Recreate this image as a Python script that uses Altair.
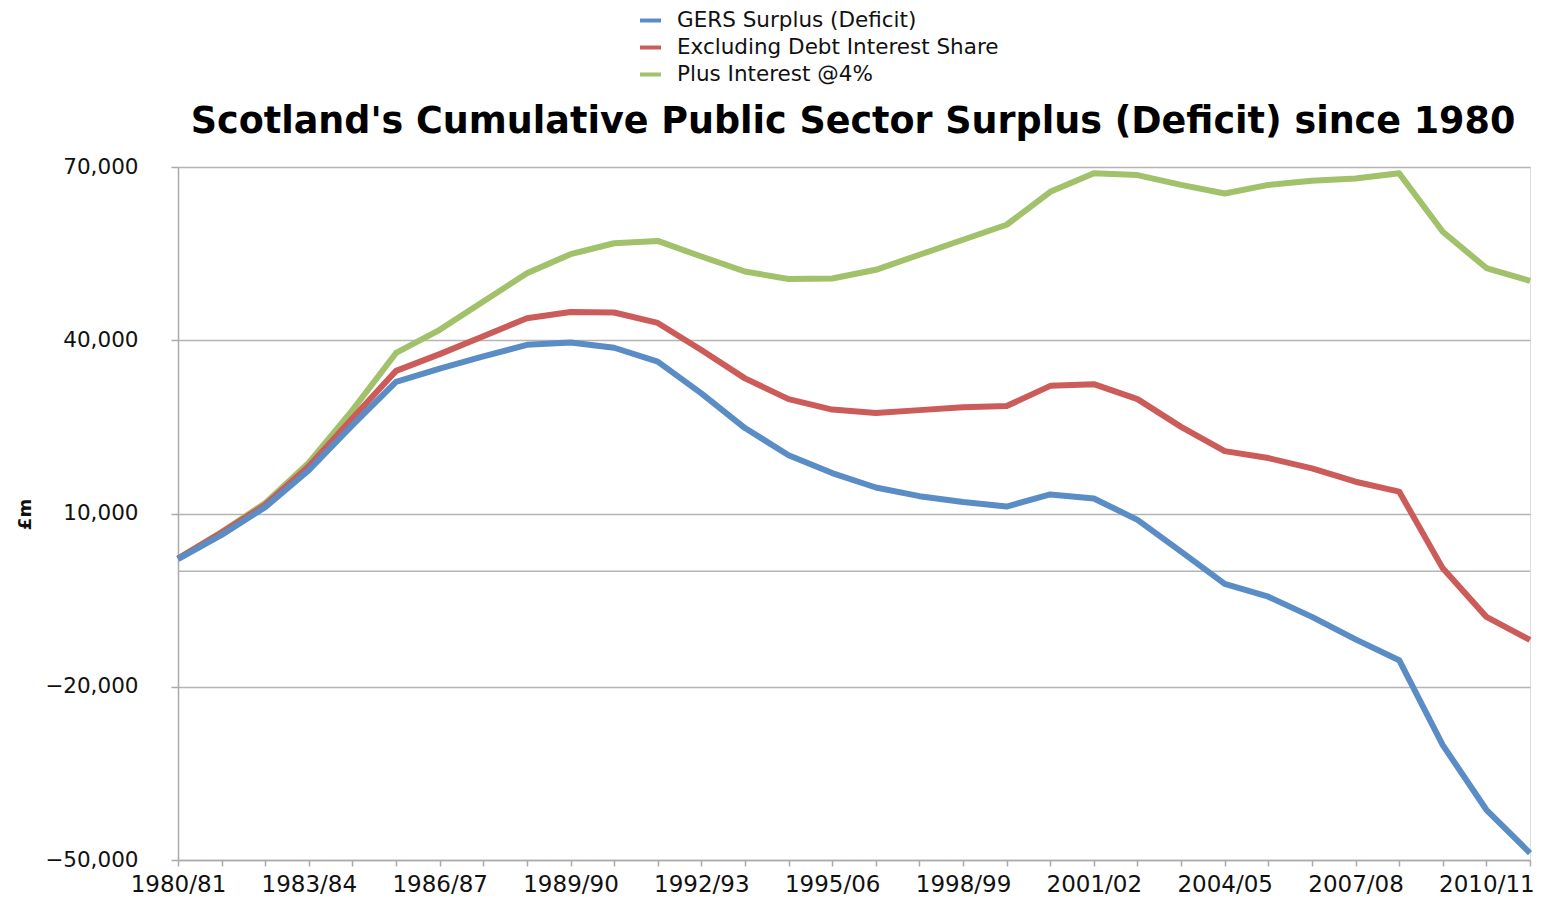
import altair as alt
import pandas as pd

years = ["1980/81", "1981/82", "1982/83", "1983/84", "1984/85", "1985/86", "1986/87", "1987/88",
         "1988/89", "1989/90", "1990/91", "1991/92", "1992/93", "1993/94", "1994/95", "1995/06",
         "1996/97", "1997/98", "1998/99", "1999/00", "2000/01", "2001/02", "2002/03", "2003/04",
         "2004/05", "2005/06", "2006/07", "2007/08", "2008/09", "2009/10", "2010/11", "2011/12"]
shown_labels = ["1980/81", "1983/84", "1986/87", "1989/90", "1992/93", "1995/06",
                "1998/99", "2001/02", "2004/05", "2007/08", "2010/11"]

gers = [2100, 6300, 11100, 17500, 25300, 32800, 35100, 37200, 39200, 39600, 38700, 36300,
        30800, 24800, 20100, 17000, 14500, 13000, 12000, 11200, 13300, 12600, 8900, 3400,
        -2200, -4400, -7900, -11800, -15400, -30100, -41300, -48800]
excl_interest = [2200, 6700, 11500, 18200, 26500, 34700, 37600, 40700, 43800, 44900, 44800, 43000,
                 38300, 33400, 29800, 28000, 27400, 27900, 28400, 28600, 32100, 32400, 29800, 25000,
                 20800, 19600, 17800, 15500, 13800, 500, -7900, -11900]
plus_interest = [2200, 6800, 11800, 18800, 27900, 37800, 41800, 46700, 51600, 54900, 56800, 57200,
                 54500, 51900, 50600, 50700, 52200, 54800, 57400, 60000, 65700, 68900, 68600, 66900,
                 65400, 66900, 67600, 68000, 68900, 58800, 52500, 50300]

series_names = ["GERS  Surplus (Deficit)", "Excluding Debt Interest Share", "Plus Interest @4%"]
series_colors = ["#5A8DC5", "#CC5C59", "#A1C16A"]
y_ticks = [-50000, -20000, 10000, 40000, 70000]
title_text = "Scotland's Cumulative Public Sector Surplus (Deficit) since 1980"

rows = []
for name, vals in zip(series_names, [gers, excl_interest, plus_interest]):
    for i, (yr, v) in enumerate(zip(years, vals)):
        rows.append({"year": yr, "value": v, "series": name, "idx": i})
df = pd.DataFrame(rows)

font = "DejaVu Sans"
label_list = "[" + ",".join("'" + s + "'" for s in shown_labels) + "]"

x_enc = alt.X(
    "year:N", sort=years, title=None,
    scale=alt.Scale(type="point", padding=0),
    axis=alt.Axis(
        labelExpr="indexof(" + label_list + ", datum.value) >= 0 ? datum.value : ''",
        labelAngle=0, labelOverlap=False, labelFontSize=23, labelFont=font, labelColor="#111",
        labelPadding=7, tickSize=6, tickColor="#aaaaaa", domainColor="#aaaaaa", domainWidth=1.5,
        tickWidth=1.5, grid=False, labelLimit=0,
    ),
)
y_enc = alt.Y(
    "value:Q", title="£m",
    scale=alt.Scale(domain=[-50000, 70000], nice=False, zero=False),
    axis=alt.Axis(
        values=y_ticks, format=",.0f", labelFontSize=21.5, labelFont=font, labelColor="#111",
        labelPadding=33, tickSize=7, tickColor="#aaaaaa", tickWidth=1.5,
        domainColor="#aaaaaa", domainWidth=1.5,
        grid=True, gridColor="#b4b4b4", gridWidth=1.5,
        titleFont=font, titleFontSize=18, titleFontWeight="bold", titleColor="#111",
        titleAngle=-90, titleX=-153, titleY=347, titleAlign="center", titleBaseline="middle",
    ),
)
color_enc = alt.Color(
    "series:N", title=None,
    scale=alt.Scale(domain=series_names, range=series_colors),
    legend=alt.Legend(
        orient="none", legendX=460, legendY=-159, symbolType="stroke", symbolStrokeWidth=4,
        symbolSize=440, labelFontSize=21.5, labelFont=font, labelColor="#111", rowPadding=4,
        labelOffset=14, labelLimit=0,
    ),
)

base = alt.Chart(df)
zero_rule = alt.Chart(pd.DataFrame({"v": [0]})).mark_rule(color="#b4b4b4", strokeWidth=1.5).encode(
    y=alt.Y("v:Q", scale=alt.Scale(domain=[-50000, 70000], nice=False, zero=False))
)
title_layer = alt.Chart(pd.DataFrame({"t": [title_text]})).mark_text(
    font=font, fontSize=36.5, fontWeight="bold", color="#000", align="center", baseline="alphabetic"
).encode(x=alt.value(675), y=alt.value(-34), text="t:N")

layers = [zero_rule]
for name in reversed(series_names):
    layers.append(
        base.transform_filter(alt.datum.series == name)
        .mark_line(strokeWidth=6, strokeJoin="round")
        .encode(x=x_enc, y=y_enc, color=color_enc, order="idx:Q")
    )
layers.append(title_layer)

chart = alt.layer(*layers).properties(
    width=1352, height=693,
    padding={"left": 170, "top": 159, "right": 4, "bottom": 40},
    autosize=alt.AutoSizeParams(type="none"),
).configure_view(stroke=None).configure(background="white")

chart.save("out.html", embed_options={"renderer": "svg", "actions": False})
